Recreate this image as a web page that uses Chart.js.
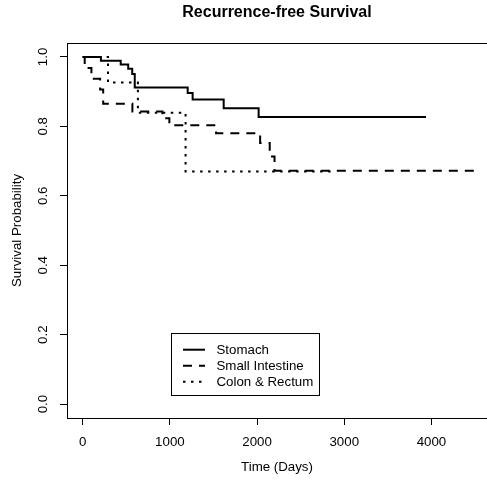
<!DOCTYPE html>
<html><head><meta charset="utf-8">
<script src="https://cdn.jsdelivr.net/npm/chart.js@4.4.1/dist/chart.umd.min.js"></script>
<style>html,body{margin:0;padding:0;background:#fff;}canvas{display:block;}</style>
</head><body>
<canvas id="c" width="487" height="480"></canvas>
<script>
const chartTitle = 'Recurrence-free Survival';
const xAxisTitle = 'Time (Days)';
const yAxisTitle = 'Survival Probability';
const seriesNames = ['Stomach', 'Small Intestine', 'Colon & Rectum'];

const stomachTimes = [0, 209, 436, 522, 568, 597, 1204, 1261, 1617, 2018, 3938];
const stomachSurv  = [1.0, 0.989, 0.978, 0.966, 0.951, 0.912, 0.896, 0.877, 0.852, 0.827, 0.827];

const smallIntTimes = [0, 23, 100, 200, 235, 570, 914, 994, 1530, 2035, 2145, 2200, 4490];
const smallIntSurv  = [1.0, 0.968, 0.937, 0.906, 0.865, 0.843, 0.823, 0.803, 0.780, 0.752, 0.713, 0.672, 0.672];

const colonTimes = [0, 290, 633, 1180, 2870];
const colonSurv  = [1.0, 0.926, 0.839, 0.670, 0.670];

const xTickValues = [0, 1000, 2000, 3000, 4000];
const yTickValues = [0, 0.2, 0.4, 0.6, 0.8, 1.0];
const yTickLabels = ['0.0', '0.2', '0.4', '0.6', '0.8', '1.0'];

const FONT = '"Liberation Sans", Arial, sans-serif';
const BASE = 13.3;

function pts(ts, ss) { return ts.map((t, i) => ({x: t, y: ss[i]})); }

const styles = [
  {dash: []},
  {dash: [9, 7]},
  {dash: [2.5, 5.5]}
];

const decor = {
  id: 'decor',
  afterDraw(chart) {
    const ctx = chart.ctx;
    const ca = chart.chartArea;
    ctx.save();
    // top border of the box
    ctx.strokeStyle = '#000';
    ctx.lineWidth = 1;
    ctx.beginPath();
    ctx.moveTo(Math.round(ca.left) + 0.5, Math.round(ca.top) + 0.5);
    ctx.lineTo(chart.width, Math.round(ca.top) + 0.5);
    ctx.stroke();
    // title
    ctx.fillStyle = '#000';
    ctx.font = 'bold 16px ' + FONT;
    ctx.textAlign = 'center';
    ctx.textBaseline = 'middle';
    ctx.fillText(chartTitle, 277, 13);
    // rotated y tick labels
    const ys = chart.scales.y;
    ctx.font = BASE + 'px ' + FONT;
    yTickValues.forEach((v, i) => {
      const py = ys.getPixelForValue(v);
      ctx.save();
      ctx.translate(43, py);
      ctx.rotate(-Math.PI / 2);
      ctx.textAlign = 'center';
      ctx.textBaseline = 'middle';
      ctx.fillText(yTickLabels[i], 0, 0);
      ctx.restore();
    });
    // legend
    const lx = 171.5, ly = 333.5, lw = 148, lh = 62;
    ctx.fillStyle = '#fff';
    ctx.fillRect(lx, ly, lw, lh);
    ctx.strokeStyle = '#000';
    ctx.lineWidth = 1;
    ctx.setLineDash([]);
    ctx.strokeRect(lx, ly, lw, lh);
    chart.data.datasets.forEach((ds, i) => {
      const cy = 350.7 + i * 16;
      ctx.save();
      ctx.strokeStyle = ds.borderColor;
      ctx.lineWidth = ds.borderWidth;
      ctx.setLineDash(ds.borderDash || []);
      ctx.beginPath();
      ctx.moveTo(183, cy - 1);
      ctx.lineTo(205, cy - 1);
      ctx.stroke();
      ctx.restore();
      ctx.fillStyle = '#000';
      ctx.font = BASE + 'px ' + FONT;
      ctx.textAlign = 'left';
      ctx.textBaseline = 'middle';
      ctx.fillText(ds.label, 216.5, cy);
    });
    ctx.restore();
  }
};

const allSeries = [pts(stomachTimes, stomachSurv), pts(smallIntTimes, smallIntSurv), pts(colonTimes, colonSurv)];

new Chart(document.getElementById('c'), {
  type: 'line',
  data: {
    datasets: allSeries.map((d, i) => ({
      label: seriesNames[i],
      data: d,
      stepped: true,
      borderColor: '#000',
      borderWidth: 2,
      borderDash: styles[i].dash,
      borderCapStyle: 'butt',
      pointRadius: 0,
      fill: false,
      tension: 0
    }))
  },
  options: {
    responsive: false,
    animation: false,
    devicePixelRatio: 1,
    layout: {padding: {top: 43, left: 0, right: 0, bottom: 0}},
    plugins: {legend: {display: false}, title: {display: false}, tooltip: {enabled: false}},
    scales: {
      x: {
        type: 'linear',
        position: 'bottom',
        min: -180,
        max: 4637,
        afterBuildTicks: s => { s.ticks = xTickValues.map(v => ({value: v})); },
        afterFit: s => { s.height = 62; },
        grid: {drawOnChartArea: false, drawTicks: true, tickLength: 7, color: '#000', lineWidth: 1},
        border: {display: true, color: '#000', width: 1},
        ticks: {color: '#000', font: {family: FONT, size: BASE}, padding: 9, maxRotation: 0, autoSkip: false,
                callback: v => String(v)},
        title: {display: true, text: xAxisTitle, color: '#000', font: {family: FONT, size: BASE}, padding: {top: 0, bottom: 5}}
      },
      y: {
        type: 'linear',
        position: 'left',
        min: -0.04,
        max: 1.04,
        afterBuildTicks: s => { s.ticks = yTickValues.map(v => ({value: v})); },
        afterFit: s => { s.width = 67; },
        grid: {drawOnChartArea: false, drawTicks: true, tickLength: 7, color: '#000', lineWidth: 1},
        border: {display: true, color: '#000', width: 1},
        ticks: {display: false},
        title: {display: true, text: yAxisTitle, color: '#000', font: {family: FONT, size: BASE}, padding: {top: 9, bottom: 0}}
      }
    }
  },
  plugins: [decor]
});
</script>
</body></html>
